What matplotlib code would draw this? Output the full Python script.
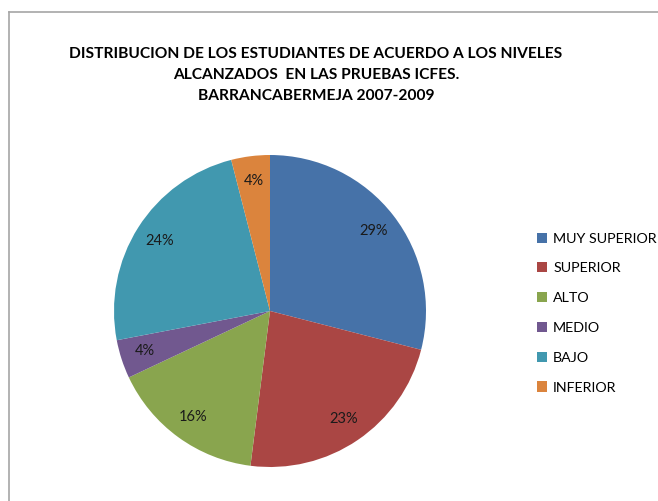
import matplotlib
matplotlib.use('Agg')
import matplotlib.pyplot as plt
from matplotlib.lines import Line2D
from matplotlib.patches import Patch

# Datos del gráfico
niveles = ['MUY SUPERIOR', 'SUPERIOR', 'ALTO', 'MEDIO', 'BAJO', 'INFERIOR']
porcentajes = [29, 23, 16, 4, 24, 4]
colores = ['#4672A8', '#AA4644', '#89A54E', '#71588F', '#4198AF', '#DB843D']
titulo = ('DISTRIBUCION DE LOS ESTUDIANTES DE ACUERDO A LOS NIVELES\n'
          'ALCANZADOS  EN LAS PRUEBAS ICFES.\n'
          'BARRANCABERMEJA 2007-2009')

plt.rcParams['font.family'] = ['Lato', 'DejaVu Sans']

W, H = 658, 501
fig = plt.figure(figsize=(W / 100, H / 100), dpi=100)

# Borde del área del gráfico (estilo Excel)
fig.add_artist(Line2D([9 / W, 9 / W], [0, 1 - 12 / H], color='#A6A6A6', lw=1.2))
fig.add_artist(Line2D([9 / W, 1], [1 - 12 / H, 1 - 12 / H], color='#A6A6A6', lw=1.2))

fig.text(316 / W, 1 - 75 / H, titulo, ha='center', va='center',
         fontsize=11.2, fontweight='bold', linespacing=1.68)

# Pastel: centro (270, 311) px, radio 156 px
cx, cy, r = 270, 311, 156
ax = fig.add_axes([(cx - r) / W, (H - cy - r) / H, 2 * r / W, 2 * r / H])
ax.pie(porcentajes, colors=colores, startangle=90, counterclock=False,
       autopct='%d%%', pctdistance=0.84, radius=1,
       textprops={'fontsize': 10.5, 'color': '#1a1a1a'})
ax.set_xlim(-1, 1)
ax.set_ylim(-1, 1)
ax.set_aspect('equal')

handles = [Patch(facecolor=c, edgecolor='none') for c in colores]
fig.legend(handles, niveles, loc='upper left',
           bbox_to_anchor=(531 / W, 1 - 227 / H), frameon=False,
           fontsize=10.3, handlelength=0.7, handleheight=0.7,
           handletextpad=0.45, labelspacing=1.24, borderaxespad=0)

fig.savefig('out.png', dpi=100)
